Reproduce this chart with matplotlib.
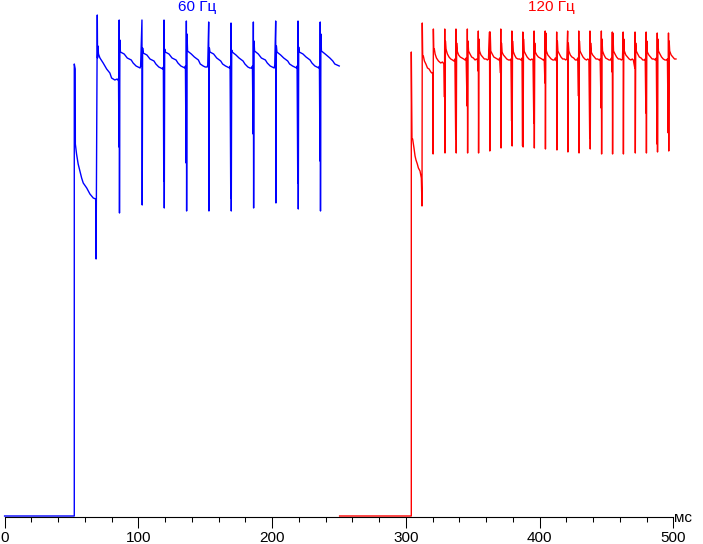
import matplotlib
matplotlib.use("Agg")
import matplotlib.pyplot as plt
from matplotlib.ticker import MultipleLocator

plt.rcParams['font.family'] = ['Liberation Sans', 'DejaVu Sans']

# brightness traces: time in ms, level in arbitrary units
blue_t = [
    0, 52.1, 52.1, 52.8, 52.9, 53.8, 55.0, 56.3, 57.6, 58.8, 61.4, 63.8, 66.3, 68.1,
    68.4, 69.3, 69.5, 69.8, 70.2, 71.3, 73.7, 76.3, 78.7, 80.0, 82.4, 84.2, 85.2,
    85.5, 85.7, 85.9, 86.2, 86.6, 89.4, 91.7, 94.7, 96.1, 98.3, 99.8, 101.3, 101.7,
    102.7, 102.9, 103.2, 103.6, 106.4, 108.7, 111.7, 113.1, 115.3, 116.8, 118.3, 118.7,
    119.0, 119.2, 119.4, 119.7, 120.1, 122.9, 125.2, 128.2, 129.6, 131.8, 133.3, 134.8, 135.2,
    135.7, 135.9, 136.1, 136.4, 136.8, 139.6, 141.9, 144.9, 146.3, 148.5, 150.0, 151.5, 151.9,
    152.6, 152.8, 153.1, 153.5, 156.3, 158.6, 161.6, 163.0, 165.2, 166.7, 168.2, 168.6,
    169.1, 169.3, 169.5, 169.8, 170.2, 173.0, 175.3, 178.3, 179.7, 181.9, 183.4, 184.9, 185.3,
    185.8, 186.0, 186.2, 186.5, 186.9, 189.7, 192.0, 195.0, 196.4, 198.6, 200.1, 201.6, 202.0,
    202.7, 202.9, 203.2, 203.6, 206.4, 208.7, 211.7, 213.1, 215.3, 216.8, 218.3, 218.7,
    219.2, 219.4, 219.6, 219.9, 220.3, 223.1, 225.4, 228.4, 229.8, 232.0, 233.5, 235.0, 235.4,
    235.8, 236.0, 236.2, 236.5, 236.9, 239.7, 243.2, 245.4, 246.9, 250.2,
]
blue_v = [
    1, 1, 453, 448, 373, 363, 353, 346, 339, 334, 329, 323, 319, 318,
    258, 502, 459, 471, 463, 459, 454, 448, 444, 439, 437, 438, 436,
    370, 497, 304, 477, 465, 463, 459, 457, 454, 451, 450, 449, 451,
    497, 312, 469, 464, 462, 458, 456, 453, 450, 449, 448, 450,
    336, 497, 309, 468, 465, 463, 459, 457, 454, 451, 450, 449, 451,
    354, 496, 306, 483, 466, 463, 460, 457, 453, 451, 450, 450, 452,
    495, 306, 469, 465, 463, 459, 456, 453, 451, 450, 449, 451,
    319, 494, 306, 467, 465, 462, 459, 456, 453, 450, 449, 449, 451,
    383, 495, 309, 476, 466, 463, 459, 457, 454, 451, 450, 449, 452,
    496, 314, 471, 465, 462, 459, 456, 453, 451, 450, 449, 451,
    334, 496, 308, 470, 465, 463, 460, 457, 454, 451, 450, 449, 451,
    356, 495, 306, 483, 466, 463, 459, 456, 453, 451,
]

red_t = [
    250.5, 304.1, 304.1, 304.4, 304.6, 305.1, 306.1, 306.9, 307.6, 308.6, 309.4, 310.6, 311.6, 312.1,
    312.3, 312.6, 313.1, 313.9, 315.0, 316.2, 317.4, 318.7, 319.4, 320.1,
    320.4, 320.6, 320.9, 321.3, 321.9, 322.9, 324.4, 326.1, 327.4, 328.5,
    328.9, 329.1, 329.3, 329.6, 330.0, 331.1, 332.3, 333.6, 334.9, 335.9, 336.7,
    337.3, 337.5, 337.7, 338.0, 338.4, 339.5, 340.7, 342.0, 343.3, 344.3, 345.1,
    345.8, 346.0, 346.2, 346.5, 346.9, 348.0, 349.2, 350.5, 351.8, 352.8, 353.6,
    354.0, 354.2, 354.4, 354.7, 355.1, 356.2, 357.4, 358.7, 360.0, 361.0, 361.8,
    362.6, 362.8, 363.1, 363.5, 364.6, 365.8, 367.1, 368.4, 369.4, 370.2,
    370.8, 371.0, 371.2, 371.5, 371.9, 373.0, 374.2, 375.5, 376.8, 377.8, 378.6,
    379.1, 379.3, 379.5, 379.8, 380.2, 381.3, 382.5, 383.8, 385.1, 386.1, 386.9,
    387.3, 387.5, 387.7, 388.0, 388.4, 389.5, 390.7, 392.0, 393.3, 394.3, 395.1,
    395.7, 395.9, 396.1, 396.4, 396.8, 397.9, 399.1, 400.4, 401.7, 402.7, 403.5,
    404.0, 404.2, 404.4, 404.7, 405.1, 406.2, 407.4, 408.7, 410.0, 411.0, 411.8,
    412.6, 412.8, 413.0, 413.3, 413.7, 414.8, 416.0, 417.3, 418.6, 419.6, 420.4,
    421.0, 421.2, 421.5, 421.9, 423.0, 424.2, 425.5, 426.8, 427.8, 428.6,
    429.1, 429.3, 429.5, 429.8, 430.2, 431.3, 432.5, 433.8, 435.1, 436.1, 436.9,
    437.5, 437.7, 437.9, 438.2, 438.6, 439.7, 440.9, 442.2, 443.5, 444.5, 445.3,
    446.0, 446.2, 446.4, 446.7, 447.1, 448.2, 449.4, 450.7, 452.0, 453.0, 453.8,
    454.2, 454.4, 454.6, 454.9, 455.3, 456.4, 457.6, 458.9, 460.2, 461.2, 462.0,
    462.5, 462.7, 463.0, 463.4, 464.5, 465.7, 467.0, 468.3, 469.3, 470.1,
    471.2, 471.4, 471.6, 471.9, 472.3, 473.4, 474.6, 475.9, 477.2, 478.2, 479.0,
    479.5, 479.7, 479.9, 480.2, 480.6, 481.7, 482.9, 484.2, 485.5, 486.5, 487.3,
    487.8, 488.0, 488.2, 488.5, 488.9, 490.0, 491.2, 492.5, 493.8, 494.8, 495.6,
    496.2, 496.4, 496.6, 496.9, 497.3, 498.4, 499.6, 500.9, 502.0,
]
red_v = [
    1, 1, 465, 419, 378, 378, 369, 361, 357, 353, 349, 346, 339, 311,
    494, 461, 461, 456, 453, 449, 448, 445, 444, 444,
    363, 488, 466, 468, 463, 459, 456, 454, 455, 453,
    420, 488, 364, 476, 468, 463, 460, 458, 457, 456, 458,
    378, 488, 364, 474, 466, 462, 460, 459, 458, 457, 459,
    411, 488, 364, 476, 466, 463, 460, 459, 457, 458, 457,
    446, 486, 364, 478, 466, 462, 460, 458, 458, 457, 458,
    485, 366, 485, 466, 463, 460, 459, 458, 457, 459,
    444, 488, 369, 474, 465, 462, 460, 458, 457, 457, 458,
    396, 486, 371, 476, 466, 462, 459, 458, 458, 457, 459,
    371, 485, 370, 478, 466, 463, 460, 458, 457, 458, 457,
    394, 486, 369, 474, 465, 462, 460, 459, 458, 457, 458,
    434, 486, 368, 484, 466, 462, 460, 458, 457, 457, 459,
    456, 485, 367, 476, 466, 463, 460, 458, 458, 457, 458,
    486, 365, 474, 466, 462, 460, 459, 457, 457, 459,
    421, 486, 364, 476, 466, 463, 460, 458, 457, 458, 457,
    379, 486, 368, 474, 465, 462, 460, 458, 458, 457, 458,
    409, 486, 363, 478, 466, 462, 459, 458, 457, 457, 459,
    445, 485, 363, 484, 466, 463, 460, 458, 458, 457, 458,
    485, 363, 478, 466, 462, 460, 458, 457, 458, 457,
    449, 485, 364, 474, 466, 463, 460, 459, 457, 457, 458,
    404, 485, 364, 476, 465, 462, 460, 458, 458, 457, 459,
    373, 484, 365, 478, 466, 463, 460, 458, 457, 457, 458,
    384, 484, 366, 476, 466, 462, 460, 458, 458,
]

labels = ["60 Гц", "120 Гц"]
label_t = [143.9, 409.0]
colors = ["#0000ff", "#ff0000"]

fig = plt.figure(figsize=(7.03, 5.44), dpi=100)
ax = fig.add_axes([4.6 / 703, 27 / 544, 668.7 / 703, 517 / 544])

ax.plot(blue_t, blue_v, color=colors[0], lw=1.0, clip_on=False)
ax.plot(red_t, red_v, color=colors[1], lw=1.0, clip_on=False)

for lab, t, c in zip(labels, label_t, colors):
    ax.text(t, 510, lab, color=c, fontsize=11, ha="center", va="center")

ax.set_xlim(0, 500)
ax.set_ylim(0, 517)
for s in ["top", "right", "left"]:
    ax.spines[s].set_visible(False)
ax.spines["bottom"].set_linewidth(0.8)
ax.set_yticks([])
ax.xaxis.set_major_locator(MultipleLocator(100))
ax.xaxis.set_minor_locator(MultipleLocator(20))
ax.tick_params(axis="x", which="major", length=7.8, width=0.75, labelsize=11, pad=2)
ax.tick_params(axis="x", which="minor", length=3.3, width=0.75)

fig.text(683 / 703, 1 - 518 / 544, "мс", fontsize=11, ha="center", va="center")

fig.savefig("out.png", dpi=100)
